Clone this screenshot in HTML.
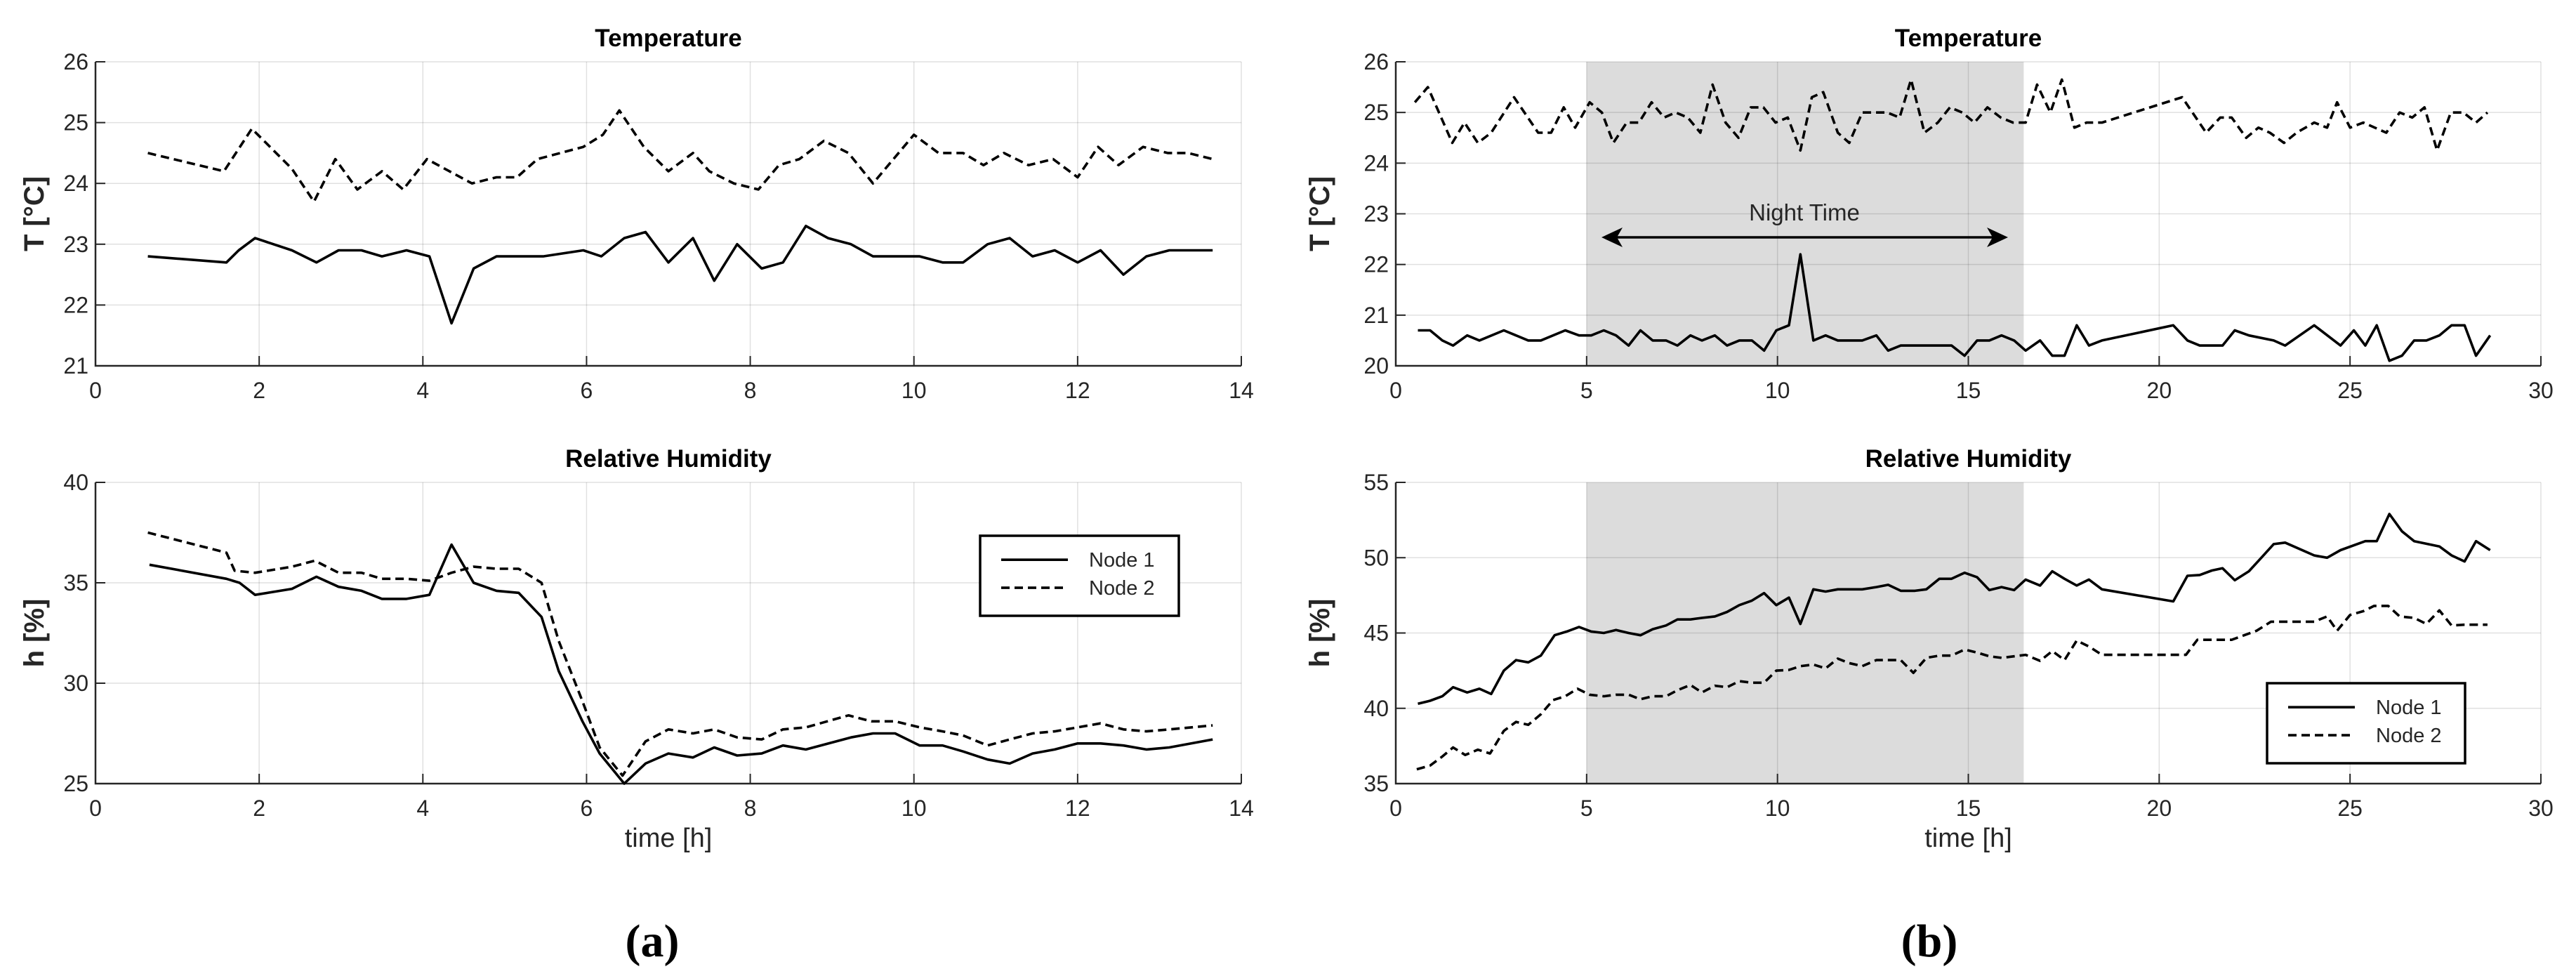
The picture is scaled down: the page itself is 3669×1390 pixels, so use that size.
<!DOCTYPE html>
<html><head><meta charset="utf-8"><style>
html,body{margin:0;padding:0;background:#fff;}
svg{display:block;font-family:"Liberation Sans",sans-serif;}
</style></head><body>
<svg id="fig" width="3669" height="1390" viewBox="0 0 3669 1390" xmlns="http://www.w3.org/2000/svg"></svg>
<script>
// ---- data ----
const aTempX1=[0.64,1.6,1.75,1.95,2.4,2.7,2.97,3.25,3.5,3.8,4.08,4.35,4.62,4.9,5.47,5.96,6.18,6.46,6.72,7.0,7.3,7.56,7.84,8.14,8.4,8.68,8.95,9.23,9.5,10.07,10.35,10.6,10.9,11.17,11.45,11.72,12.0,12.28,12.56,12.84,13.12,13.65];
const aTempY1=[22.8,22.7,22.9,23.1,22.9,22.7,22.9,22.9,22.8,22.9,22.8,21.7,22.6,22.8,22.8,22.9,22.8,23.1,23.2,22.7,23.1,22.4,23.0,22.6,22.7,23.3,23.1,23.0,22.8,22.8,22.7,22.7,23.0,23.1,22.8,22.9,22.7,22.9,22.5,22.8,22.9,22.9];
const aTempX2=[0.64,1.57,1.91,2.4,2.67,2.93,3.2,3.5,3.76,4.05,4.6,4.9,5.15,5.4,5.96,6.2,6.4,6.7,7.0,7.3,7.5,7.8,8.1,8.35,8.6,8.9,9.2,9.5,10.0,10.3,10.6,10.85,11.1,11.4,11.7,12.0,12.25,12.5,12.8,13.1,13.35,13.65];
const aTempY2=[24.5,24.2,24.9,24.24,23.7,24.4,23.9,24.2,23.9,24.4,24.0,24.1,24.1,24.4,24.6,24.8,25.2,24.6,24.2,24.5,24.2,24.0,23.9,24.3,24.4,24.7,24.5,24.0,24.8,24.5,24.5,24.3,24.5,24.3,24.4,24.1,24.6,24.3,24.6,24.5,24.5,24.4];
const aHumX1=[0.66,1.6,1.76,1.95,2.4,2.7,2.97,3.25,3.5,3.8,4.08,4.35,4.62,4.9,5.17,5.45,5.66,5.95,6.16,6.46,6.72,7.0,7.3,7.56,7.84,8.14,8.4,8.68,9.23,9.5,9.77,10.07,10.35,10.6,10.9,11.17,11.45,11.72,12.0,12.28,12.56,12.84,13.12,13.65];
const aHumY1=[35.9,35.2,35.0,34.4,34.7,35.3,34.8,34.6,34.2,34.2,34.4,36.9,35.0,34.6,34.5,33.3,30.6,28.1,26.5,25.0,26.0,26.5,26.3,26.8,26.4,26.5,26.9,26.7,27.3,27.5,27.5,26.9,26.9,26.6,26.2,26.0,26.5,26.7,27.0,27.0,26.9,26.7,26.8,27.2];
const aHumX2=[0.64,1.6,1.7,1.95,2.4,2.68,2.97,3.25,3.5,3.8,4.08,4.35,4.62,4.9,5.17,5.45,5.66,5.95,6.16,6.44,6.72,7.0,7.3,7.56,7.84,8.14,8.4,8.68,9.2,9.48,9.77,10.07,10.35,10.6,10.9,11.17,11.45,11.72,12.0,12.28,12.56,12.84,13.12,13.65];
const aHumY2=[37.5,36.5,35.6,35.5,35.8,36.1,35.5,35.5,35.2,35.2,35.1,35.5,35.8,35.7,35.7,35.0,32.1,29.1,26.8,25.4,27.1,27.7,27.5,27.7,27.3,27.2,27.7,27.8,28.4,28.1,28.1,27.8,27.6,27.4,26.9,27.2,27.5,27.6,27.8,28.0,27.7,27.6,27.7,27.9];
const bTempX1=[0.58,0.9,1.22,1.5,1.87,2.19,2.83,3.47,3.8,4.44,4.8,5.12,5.45,5.77,6.1,6.41,6.73,7.08,7.38,7.72,8.02,8.36,8.68,9.0,9.33,9.65,9.97,10.3,10.6,10.94,11.26,11.58,12.22,12.59,12.9,13.23,14.56,14.9,15.23,15.55,15.87,16.2,16.5,16.88,17.2,17.52,17.84,18.16,18.5,20.37,20.74,21.06,21.66,21.98,22.35,23.0,23.3,24.06,24.75,25.1,25.4,25.7,26.03,26.36,26.68,27.0,27.34,27.66,28.0,28.3,28.67];
const bTempY1=[20.7,20.7,20.5,20.4,20.6,20.5,20.7,20.5,20.5,20.7,20.6,20.6,20.7,20.6,20.4,20.7,20.5,20.5,20.4,20.6,20.5,20.6,20.4,20.5,20.5,20.3,20.7,20.8,22.2,20.5,20.6,20.5,20.5,20.6,20.3,20.4,20.4,20.2,20.5,20.5,20.6,20.5,20.3,20.5,20.2,20.2,20.8,20.4,20.5,20.8,20.5,20.4,20.4,20.7,20.6,20.5,20.4,20.8,20.4,20.7,20.4,20.8,20.1,20.2,20.5,20.5,20.6,20.8,20.8,20.2,20.6];
const bTempX2=[0.5,0.84,1.48,1.8,2.15,2.5,3.1,3.73,4.07,4.4,4.7,5.08,5.4,5.7,6.05,6.37,6.7,7.03,7.33,7.65,7.98,8.3,8.64,8.98,9.3,9.63,9.95,10.27,10.6,10.9,11.2,11.58,11.88,12.22,12.87,13.2,13.5,13.85,14.2,14.52,14.84,15.16,15.5,15.85,16.17,16.5,16.8,17.15,17.45,17.78,18.1,18.5,20.6,21.23,21.6,21.9,22.28,22.6,22.9,23.27,23.6,24.06,24.4,24.66,25.0,25.35,25.95,26.3,26.63,26.95,27.28,27.64,27.97,28.3,28.6];
const bTempY2=[25.2,25.5,24.4,24.8,24.4,24.6,25.3,24.6,24.6,25.1,24.7,25.2,25.0,24.4,24.8,24.8,25.2,24.9,25.0,24.9,24.6,25.55,24.8,24.5,25.1,25.1,24.8,24.9,24.25,25.3,25.4,24.6,24.4,25.0,25.0,24.9,25.65,24.6,24.8,25.1,25.0,24.8,25.1,24.9,24.8,24.8,25.55,25.0,25.65,24.7,24.8,24.8,25.3,24.6,24.9,24.9,24.5,24.7,24.6,24.4,24.6,24.8,24.7,25.2,24.7,24.8,24.6,25.0,24.9,25.1,24.25,25.0,25.0,24.8,25.0];
const bHumX1=[0.58,0.9,1.22,1.5,1.87,2.19,2.5,2.83,3.15,3.47,3.8,4.16,4.48,4.8,5.12,5.45,5.77,6.1,6.41,6.73,7.08,7.38,7.72,8.02,8.36,8.68,9.0,9.33,9.65,9.97,10.3,10.6,10.94,11.26,11.58,12.22,12.59,12.9,13.23,13.6,13.9,14.24,14.56,14.9,15.23,15.55,15.87,16.2,16.5,16.88,17.2,17.52,17.84,18.16,18.5,20.37,20.74,21.06,21.38,21.66,21.98,22.35,22.66,23.0,23.3,24.06,24.4,24.75,25.4,25.7,26.03,26.36,26.68,27.34,27.66,28.0,28.3,28.67];
const bHumY1=[40.3,40.5,40.8,41.4,41.05,41.3,40.95,42.5,43.2,43.05,43.5,44.85,45.1,45.4,45.1,45.0,45.2,45.0,44.85,45.25,45.5,45.9,45.9,46.0,46.1,46.4,46.85,47.15,47.65,46.85,47.35,45.6,47.9,47.75,47.9,47.9,48.05,48.2,47.8,47.8,47.9,48.6,48.6,49.0,48.7,47.85,48.05,47.85,48.55,48.15,49.1,48.6,48.15,48.55,47.9,47.1,48.8,48.85,49.15,49.3,48.5,49.1,49.95,50.9,51.0,50.15,50.0,50.5,51.1,51.1,52.9,51.75,51.1,50.75,50.15,49.75,51.1,50.5];
const bHumX2=[0.55,0.9,1.22,1.5,1.82,2.15,2.47,2.83,3.15,3.47,3.8,4.12,4.44,4.76,5.08,5.45,5.77,6.1,6.41,6.73,7.08,7.38,7.72,8.02,8.36,8.68,9.0,9.33,9.65,9.97,10.3,10.6,10.94,11.26,11.58,11.88,12.22,12.59,13.23,13.56,13.9,14.24,14.56,14.9,15.23,15.55,15.87,16.5,16.88,17.2,17.52,17.84,18.16,18.5,20.7,21.0,21.9,22.55,22.93,24.06,24.4,24.66,25.0,25.35,25.63,26.0,26.3,26.68,27.0,27.34,27.66,28.0,28.6];
const bHumY2=[35.95,36.2,36.8,37.4,36.9,37.25,37.0,38.5,39.1,38.9,39.6,40.55,40.8,41.3,40.9,40.8,40.9,40.9,40.6,40.8,40.8,41.2,41.55,41.05,41.5,41.4,41.8,41.7,41.7,42.5,42.55,42.8,42.9,42.65,43.3,43.0,42.8,43.2,43.2,42.35,43.35,43.5,43.5,43.9,43.7,43.45,43.35,43.55,43.15,43.8,43.2,44.5,44.1,43.55,43.55,44.55,44.55,45.15,45.75,45.75,46.1,45.15,46.2,46.45,46.8,46.8,46.1,46.0,45.6,46.5,45.5,45.55,45.55];
const aXTicks=[0,2,4,6,8,10,12,14];
const bXTicks=[0,5,10,15,20,25,30];
const aTempTicks=[21,22,23,24,25,26];
const aHumTicks=[25,30,35,40];
const bTempTicks=[20,21,22,23,24,25,26];
const bHumTicks=[35,40,45,50,55];
const nightSpan=[5,16.45];

const NS="http://www.w3.org/2000/svg";
const svg=document.getElementById('fig');
function mk(tag,attrs,parent,text){const e=document.createElementNS(NS,tag);for(const k in attrs)e.setAttribute(k,attrs[k]);if(text!==undefined)e.textContent=text;(parent||svg).appendChild(e);return e;}

function panel(id,box,xd,yd,xt,yt,title,ylabel,series,opts){
  const g=mk('g',{});
  
  
  const sx=v=>box.x0+(v-xd[0])/(xd[1]-xd[0])*(box.x1-box.x0);
  const sy=v=>box.y1-(v-yd[0])/(yd[1]-yd[0])*(box.y1-box.y0);
  if(opts.shade){const r=mk('rect',{x:sx(opts.shade[0]),y:box.y0,width:sx(opts.shade[1])-sx(opts.shade[0]),height:box.y1-box.y0,fill:'#dcdcdc'},g);
    
    }
  xt.forEach(v=>{const l=mk('line',{x1:sx(v),x2:sx(v),y1:box.y0,y2:box.y1,stroke:'#000','stroke-opacity':0.12,'stroke-width':1.5},g);
    
    
    mk('line',{x1:sx(v),x2:sx(v),y1:box.y1,y2:box.y1-14,stroke:'#262626','stroke-width':2},g);
    const t=mk('text',{x:sx(v),y:box.y1+46,'text-anchor':'middle','font-size':32,fill:'#262626'},g,String(v));
    
    });
  yt.forEach(v=>{const l=mk('line',{x1:box.x0,x2:box.x1,y1:sy(v),y2:sy(v),stroke:'#000','stroke-opacity':0.12,'stroke-width':1.5},g);
    
    
    mk('line',{x1:box.x0,x2:box.x0+14,y1:sy(v),y2:sy(v),stroke:'#262626','stroke-width':2},g);
    const t=mk('text',{x:box.x0-10,y:sy(v)+11,'text-anchor':'end','font-size':32,fill:'#262626'},g,String(v));
    
    });
  const ax=mk('path',{d:`M${box.x0},${box.y0} V${box.y1} H${box.x1}`,fill:'none',stroke:'#262626','stroke-width':2.5},g);
  
  
  const tt=mk('text',{x:(box.x0+box.x1)/2,y:box.y0-22,'text-anchor':'middle','font-size':35,'font-weight':'bold'},g,title);
  
  
  const yl=mk('text',{x:0,y:0,'text-anchor':'middle','font-size':40,'font-weight':'bold',fill:'#262626',transform:`translate(${opts.ylx},${(box.y0+box.y1)/2}) rotate(-90)`},g,ylabel);
  
  
  if(opts.xlabel){const xl=mk('text',{x:(box.x0+box.x1)/2,y:box.y1+90,'text-anchor':'middle','font-size':38,fill:'#262626'},g,'time [h]');
    
    }
  series.forEach((s,i)=>{const d=s.x.map((v,j)=>(j?'L':'M')+sx(v).toFixed(1)+','+sy(s.y[j]).toFixed(1)).join(' ');
    const p=mk('path',{d:d,fill:'none',stroke:'#000','stroke-width':3.6,'stroke-linejoin':'round','stroke-dasharray':s.dash?'12,7':'none'},g);
    
    });
  return {sx,sy,g};
}
function legend(x0,y0,x1,y1){
  const g=mk('g',{});
  
  
  mk('rect',{x:x0,y:y0,width:x1-x0,height:y1-y0,fill:'#fff',stroke:'#000','stroke-width':3.5},g);
  const r1=y0+(y1-y0)*0.3, r2=y0+(y1-y0)*0.65;
  mk('line',{x1:x0+30,x2:x0+125,y1:r1,y2:r1,stroke:'#000','stroke-width':3.6},g);
  mk('line',{x1:x0+30,x2:x0+125,y1:r2,y2:r2,stroke:'#000','stroke-width':3.6,'stroke-dasharray':'12,7'},g);
  const a=mk('text',{x:x0+155,y:r1+10,'font-size':29,fill:'#262626'},g,'Node 1');
  
  
  const b=mk('text',{x:x0+155,y:r2+10,'font-size':29,fill:'#262626'},g,'Node 2');
  
  
}
panel('a-temperature',{x0:136,x1:1768,y0:88,y1:521},[0,14],[21,26],aXTicks,aTempTicks,'Temperature','T  [°C]',
  [{x:aTempX1,y:aTempY1},{x:aTempX2,y:aTempY2,dash:1}],{ylx:62});
panel('a-humidity',{x0:136,x1:1768,y0:687,y1:1116},[0,14],[25,40],aXTicks,aHumTicks,'Relative Humidity','h  [%]',
  [{x:aHumX1,y:aHumY1},{x:aHumX2,y:aHumY2,dash:1}],{ylx:62,xlabel:1});
legend(1396,763,1679,877);
panel('b-temperature',{x0:1988,x1:3619,y0:88,y1:521},[0,30],[20,26],bXTicks,bTempTicks,'Temperature','T  [°C]',
  [{x:bTempX1,y:bTempY1},{x:bTempX2,y:bTempY2,dash:1}],{ylx:1893,shade:nightSpan});
panel('b-humidity',{x0:1988,x1:3619,y0:687,y1:1116},[0,30],[35,55],bXTicks,bHumTicks,'Relative Humidity','h  [%]',
  [{x:bHumX1,y:bHumY1},{x:bHumX2,y:bHumY2,dash:1}],{ylx:1893,xlabel:1,shade:nightSpan});
legend(3229,973,3511,1087);
// night time annotation
const ag=mk('g',{});


const ax0=2281, ax1=2860, ay=338;
mk('line',{x1:ax0+10,x2:ax1-10,y1:ay,y2:ay,stroke:'#000','stroke-width':3.5},ag);
mk('path',{d:`M${ax0},${ay} L${ax0+30},${ay-14} L${ax0+22},${ay} L${ax0+30},${ay+14} Z`,fill:'#000'},ag);
mk('path',{d:`M${ax1},${ay} L${ax1-30},${ay-14} L${ax1-22},${ay} L${ax1-30},${ay+14} Z`,fill:'#000'},ag);
mk('text',{x:2570,y:314,'text-anchor':'middle','font-size':33,fill:'#262626'},ag,'Night Time');
// sub labels
const la=mk('text',{x:929,y:1362,'text-anchor':'middle','font-size':66,'font-weight':'bold','font-family':'Liberation Serif, serif'},svg,'(a)');


const lb=mk('text',{x:2748,y:1362,'text-anchor':'middle','font-size':66,'font-weight':'bold','font-family':'Liberation Serif, serif'},svg,'(b)');


</script>
</body></html>
